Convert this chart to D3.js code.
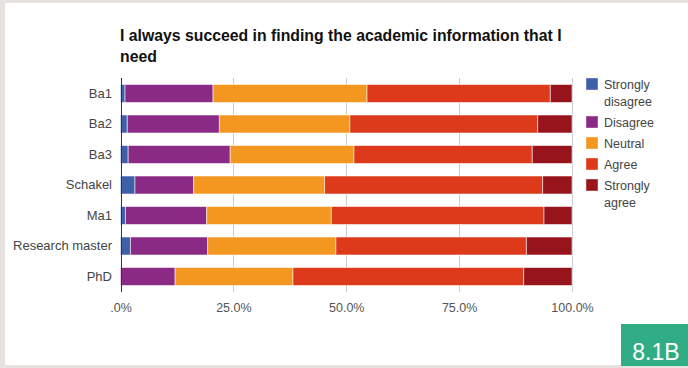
<!DOCTYPE html>
<html>
<head>
<meta charset="utf-8">
<script src="https://cdn.jsdelivr.net/npm/d3@7"></script>
<style>
  html, body { margin: 0; padding: 0; background: #e6e2df; }
  svg { display: block; }
  text { font-family: "Liberation Sans", Arial, sans-serif; }
</style>
</head>
<body>
<svg id="chart" width="688" height="368"></svg>
<script>
// Survey answers per study phase, percentage of respondents
const categories = ["Ba1", "Ba2", "Ba3", "Schakel", "Ma1", "Research master", "PhD"];
const seriesNames = ["Strongly disagree", "Disagree", "Neutral", "Agree", "Strongly agree"];
const stronglyDisagree = [1.0, 1.5, 1.7, 3.2, 1.1, 2.2, 0.0];
const disagree         = [19.5, 20.4, 22.6, 13.0, 18.0, 17.1, 12.1];
const neutral          = [34.1, 28.9, 27.4, 29.0, 27.6, 28.4, 26.1];
const agree            = [40.6, 41.6, 39.5, 48.3, 47.1, 42.2, 51.1];
const stronglyAgree    = [4.8, 7.6, 8.8, 6.5, 6.2, 10.1, 10.7];
const tickValues = [0, 25, 50, 75, 100];
const tickLabels = [".0%", "25.0%", "50.0%", "75.0%", "100.0%"];
const titleLines = ["I always succeed in finding the academic information that I", "need"];
const badgeText = "8.1B";

const colors = ["#3d60a9", "#8b2a85", "#f39720", "#dc3a1a", "#98141c"];
const seriesValues = [stronglyDisagree, disagree, neutral, agree, stronglyAgree];

const rows = categories.map((c, i) => {
  const r = { category: c };
  seriesNames.forEach((s, k) => { r[s] = seriesValues[k][i]; });
  return r;
});

const svg = d3.select("#chart");

// page background and white card
svg.append("rect").attr("width", 688).attr("height", 368).attr("fill", "#e6e2df");
svg.append("rect").attr("x", 5).attr("y", 3).attr("width", 683).attr("height", 362).attr("fill", "#ffffff");

const x = d3.scaleLinear().domain([0, 100]).range([120.5, 572]);
const y = d3.scaleBand().domain(categories).range([78, 292]).paddingInner(0.41).paddingOuter(0.213);
const color = d3.scaleOrdinal().domain(seriesNames).range(colors);

// title
svg.append("g").selectAll("text").data(titleLines).join("text")
  .attr("x", 120)
  .attr("y", (d, i) => 41 + i * 20.5)
  .attr("font-size", 15.8)
  .attr("font-weight", "bold")
  .attr("fill", "#111")
  .text(d => d);

// vertical gridlines
svg.append("g").selectAll("line").data(tickValues.slice(1)).join("line")
  .attr("x1", d => Math.round(x(d)) + 0.5).attr("x2", d => Math.round(x(d)) + 0.5)
  .attr("y1", 78).attr("y2", 292)
  .attr("stroke", "#cccccc").attr("stroke-width", 1);

// stacked bars
const stacked = d3.stack().keys(seriesNames)(rows);
svg.append("g").selectAll("g").data(stacked).join("g")
  .attr("fill", d => color(d.key))
  .selectAll("rect").data(d => d).join("rect")
  .attr("x", d => x(d[0]))
  .attr("y", d => y(d.data.category))
  .attr("width", d => Math.max(0, x(d[1]) - x(d[0])))
  .attr("height", y.bandwidth())
  .attr("stroke", "#ffffff").attr("stroke-opacity", 0.55).attr("stroke-width", 1);

// zero baseline
svg.append("line")
  .attr("x1", Math.round(x(0)) + 0.5).attr("x2", Math.round(x(0)) + 0.5)
  .attr("y1", 78).attr("y2", 292)
  .attr("stroke", "#333").attr("stroke-width", 1);

// category axis labels
const yAxis = d3.axisLeft(y).tickSize(0).tickPadding(0);
const yg = svg.append("g").attr("transform", "translate(112,0)").call(yAxis);
yg.select(".domain").remove();
yg.selectAll("text").attr("font-size", 13).attr("fill", "#444").attr("font-family", "Liberation Sans, Arial, sans-serif");

// percentage axis labels
const xAxis = d3.axisBottom(x).tickValues(tickValues).tickSize(0).tickPadding(0)
  .tickFormat((d, i) => tickLabels[i]);
const xg = svg.append("g").attr("transform", "translate(0,300)").call(xAxis);
xg.select(".domain").remove();
xg.selectAll("text").attr("font-size", 12.5).attr("fill", "#555").attr("dy", 0).attr("y", 11.5)
  .attr("font-family", "Liberation Sans, Arial, sans-serif");

// legend
const legend = svg.append("g");
let ly = 78;
seriesNames.forEach((name, k) => {
  const g = legend.append("g");
  g.append("rect").attr("x", 586).attr("y", ly).attr("width", 12).attr("height", 12)
    .attr("fill", colors[k]).attr("stroke", "#ffffff").attr("stroke-opacity", 0.4);
  // wrap long labels onto separate lines
  const words = name.split(" ");
  const lines = [];
  let cur = "";
  const probe = g.append("text").attr("font-size", 12.5).attr("visibility", "hidden");
  words.forEach(w => {
    const test = cur ? cur + " " + w : w;
    probe.text(test);
    if (cur && probe.node().getComputedTextLength() > 66) { lines.push(cur); cur = w; }
    else cur = test;
  });
  lines.push(cur);
  probe.remove();
  g.selectAll("text").data(lines).join("text")
    .attr("x", 604).attr("y", (d, i) => ly + 11 + i * 17)
    .attr("font-size", 12.5).attr("fill", "#444")
    .text(d => d);
  ly += 21 + (lines.length - 1) * 17;
});

// figure badge
svg.append("rect").attr("x", 621).attr("y", 324).attr("width", 67).attr("height", 42).attr("fill", "#30ad84");
svg.append("text").attr("x", 656).attr("y", 360).attr("text-anchor", "middle")
  .attr("font-family", "Lato, sans-serif").attr("font-weight", 300).attr("font-size", 23)
  .attr("fill", "#ffffff").text(badgeText);
</script>
</body>
</html>
